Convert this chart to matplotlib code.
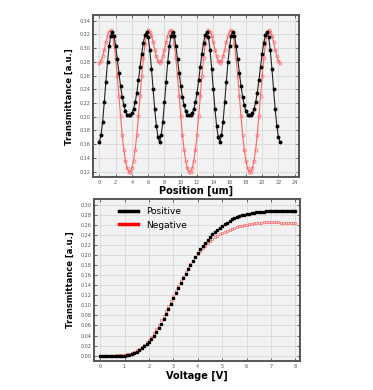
import matplotlib
matplotlib.use("Agg")
import matplotlib.pyplot as plt
import numpy as np

# top panel: transmittance vs position (0.2 um steps)
position = [round(0.2 * i, 1) for i in range(112)]
pos_black = [
    0.163, 0.173, 0.193, 0.221, 0.251, 0.280, 0.303, 0.318, 0.324, 0.318,
    0.303, 0.284, 0.264, 0.245, 0.229, 0.217, 0.208, 0.203, 0.202, 0.202,
    0.205, 0.211, 0.221, 0.235, 0.253, 0.273, 0.292, 0.308, 0.319, 0.324,
    0.316, 0.297, 0.270, 0.240, 0.211, 0.187, 0.170,
    0.163, 0.173, 0.193, 0.221, 0.251, 0.280, 0.303, 0.318, 0.324, 0.318,
    0.303, 0.284, 0.264, 0.245, 0.229, 0.217, 0.208, 0.203, 0.202, 0.202,
    0.205, 0.211, 0.221, 0.235, 0.253, 0.273, 0.292, 0.308, 0.319, 0.324,
    0.316, 0.297, 0.270, 0.240, 0.211, 0.187, 0.170,
    0.163, 0.173, 0.193, 0.221, 0.251, 0.280, 0.303, 0.318, 0.324, 0.318,
    0.303, 0.284, 0.264, 0.245, 0.229, 0.217, 0.208, 0.203, 0.202, 0.202,
    0.205, 0.211, 0.221, 0.235, 0.253, 0.273, 0.292, 0.308, 0.319, 0.324,
    0.316, 0.297, 0.270, 0.240, 0.211, 0.187, 0.170, 0.163,
]
pos_red = [
    0.278, 0.281, 0.288, 0.298, 0.309, 0.318, 0.324, 0.326, 0.320, 0.306,
    0.285, 0.259, 0.230, 0.201, 0.174, 0.152, 0.136, 0.125, 0.120, 0.120,
    0.125, 0.136, 0.152, 0.174, 0.201, 0.230, 0.259, 0.285, 0.306, 0.320,
    0.326, 0.324, 0.318, 0.309, 0.298, 0.288, 0.281,
    0.278, 0.281, 0.288, 0.298, 0.309, 0.318, 0.324, 0.326, 0.320, 0.306,
    0.285, 0.259, 0.230, 0.201, 0.174, 0.152, 0.136, 0.125, 0.120, 0.120,
    0.125, 0.136, 0.152, 0.174, 0.201, 0.230, 0.259, 0.285, 0.306, 0.320,
    0.326, 0.324, 0.318, 0.309, 0.298, 0.288, 0.281,
    0.278, 0.281, 0.288, 0.298, 0.309, 0.318, 0.324, 0.326, 0.320, 0.306,
    0.285, 0.259, 0.230, 0.201, 0.174, 0.152, 0.136, 0.125, 0.120, 0.120,
    0.125, 0.136, 0.152, 0.174, 0.201, 0.230, 0.259, 0.285, 0.306, 0.320,
    0.326, 0.324, 0.318, 0.309, 0.298, 0.288, 0.281, 0.278,
]

# bottom panel: transmittance vs voltage (0.1 V steps)
voltage = [round(0.1 * i, 1) for i in range(81)]
positive = [
    0.000, 0.000, 0.000, 0.000, 0.000, 0.000, 0.000, 0.000, 0.000, 0.000,
    0.000, 0.001, 0.002, 0.003, 0.005, 0.008, 0.011, 0.015, 0.019, 0.023,
    0.028, 0.034, 0.040, 0.047, 0.055, 0.063, 0.072, 0.082, 0.092, 0.103,
    0.114, 0.124, 0.134, 0.144, 0.154, 0.163, 0.172, 0.181, 0.189, 0.197,
    0.205, 0.212, 0.219, 0.225, 0.231, 0.237, 0.242, 0.247, 0.251, 0.255,
    0.259, 0.262, 0.265, 0.268, 0.271, 0.273, 0.275, 0.277, 0.279, 0.280,
    0.281, 0.282, 0.283, 0.284, 0.285, 0.285, 0.286, 0.286, 0.287, 0.287,
    0.287, 0.288, 0.288, 0.288, 0.288, 0.288, 0.288, 0.288, 0.288, 0.288,
    0.288,
]
negative = [
    0.000, 0.000, 0.000, 0.000, 0.000, 0.000, 0.000, 0.001, 0.001, 0.001,
    0.002, 0.003, 0.004, 0.006, 0.008, 0.011, 0.014, 0.018, 0.022, 0.027,
    0.032, 0.038, 0.045, 0.053, 0.061, 0.070, 0.079, 0.089, 0.099, 0.109,
    0.119, 0.129, 0.139, 0.148, 0.157, 0.166, 0.174, 0.182, 0.189, 0.196,
    0.203, 0.209, 0.214, 0.219, 0.224, 0.228, 0.232, 0.236, 0.239, 0.242,
    0.245, 0.247, 0.249, 0.251, 0.253, 0.255, 0.256, 0.258, 0.259, 0.260,
    0.261, 0.262, 0.263, 0.264, 0.264, 0.265, 0.265, 0.266, 0.266, 0.266,
    0.266, 0.266, 0.266, 0.266, 0.265, 0.265, 0.265, 0.264, 0.264, 0.264,
    0.264,
]

red = '#ff6464'
face = '#f2f2f2'

fig = plt.figure(figsize=(3.73, 3.9), dpi=100)
ax1 = fig.add_axes([0.249, 0.546, 0.552, 0.415])
ax2 = fig.add_axes([0.252, 0.074, 0.552, 0.416])


def style(ax):
    ax.set_facecolor(face)
    ax.grid(True, color='#d8d8d8', linewidth=0.6)
    ax.set_axisbelow(True)
    for s in ax.spines.values():
        s.set_color('#555555')
        s.set_linewidth(1.4)
    ax.tick_params(direction='in', length=2, width=0.6, labelsize=3.5,
                   colors='#555555', pad=2, top=True, right=True)


ax1.plot(position, pos_red, color=red, lw=0.8, marker='o', ms=2.2,
         mfc='none', mec=red, mew=0.5)
ax1.plot(position, pos_black, color='#222222', lw=0.8, marker='o', ms=1.8,
         mfc='black', mec='black')
ax1.set_xlim(-0.8, 24.5)
ax1.set_ylim(0.112, 0.348)
ax1.set_xticks(np.arange(0, 25, 2))
ax1.set_yticks(np.arange(0.12, 0.345, 0.02))
ax1.set_yticklabels([f'{v:.2f}' for v in np.arange(0.12, 0.345, 0.02)])
ax1.set_xlabel('Position [um]', fontsize=7, fontweight='bold', labelpad=1)
ax1.set_ylabel('Transmittance [a.u.]', fontsize=6, fontweight='bold', labelpad=4)
style(ax1)

ax2.plot(voltage, negative, ls='none', marker='s', ms=2.0, mfc='none',
         mec=red, mew=0.5)
ax2.plot(voltage, positive, ls='none', marker='s', ms=1.6, mfc='black',
         mec='black')
ax2.plot([], [], color='black', lw=2.5, label='Positive')
ax2.plot([], [], color='red', lw=2.5, label='Negative')
ax2.set_xlim(-0.25, 8.18)
ax2.set_ylim(-0.011, 0.312)
ax2.set_xticks(np.arange(0, 9, 1))
ax2.set_yticks(np.arange(0, 0.305, 0.02))
ax2.set_yticklabels([f'{v:.2f}' for v in np.arange(0, 0.305, 0.02)])
ax2.set_xlabel('Voltage [V]', fontsize=7, fontweight='bold', labelpad=1)
ax2.set_ylabel('Transmittance [a.u.]', fontsize=6, fontweight='bold', labelpad=4)
style(ax2)
handles, labels = ax2.get_legend_handles_labels()
ax2.legend(handles[-2:], labels[-2:], loc='upper left', frameon=False,
           fontsize=6.5, handlelength=2.2, bbox_to_anchor=(0.08, 1.0))

fig.savefig('out.png', dpi=100)
